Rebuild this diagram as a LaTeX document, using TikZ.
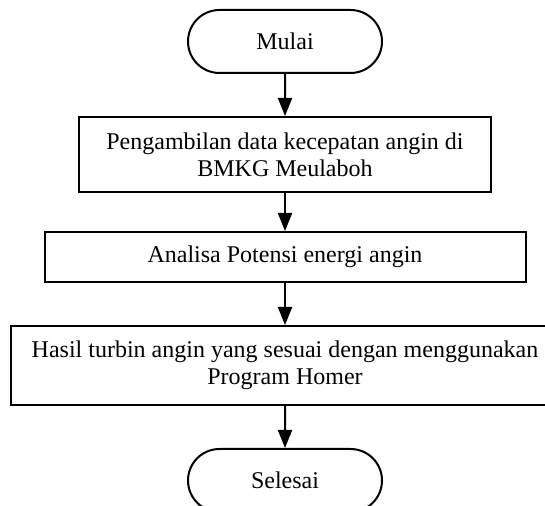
\documentclass[tikz,border=0pt]{standalone}
\usepackage{fontspec}
\setmainfont{Liberation Serif}
\usetikzlibrary{shapes.misc, arrows.meta}

\begin{document}
\begin{tikzpicture}[x=0.5pt, y=-0.5pt,
    every node/.style={draw, line width=1pt, inner sep=0pt, align=center, font=\fontsize{12}{13.5}\selectfont},
    terminal/.style={rounded rectangle, minimum width=97pt, minimum height=31.5pt},
    proses/.style={rectangle},
    panah/.style={line width=1pt, -{Triangle[length=9pt, width=7pt]}}]
    \useasboundingbox (0,0) rectangle (545,506);

    \node[terminal] (mulai) at (285,41.5) {Mulai};
    \node[proses, minimum width=206pt, minimum height=37.5pt] (ambil) at (285,154.5) {Pengambilan data kecepatan angin di\\BMKG Meulaboh};
    \node[proses, minimum width=240.5pt, minimum height=25pt] (analisa) at (285,257) {Analisa Potensi energi angin};
    \node[proses, minimum width=274pt, minimum height=39.5pt] (hasil) at (285,365.5) {Hasil turbin angin yang sesuai dengan menggunakan\\Program Homer};
    \node[terminal] (selesai) at (285,480.5) {Selesai};

    \draw[panah] (mulai) -- (ambil);
    \draw[panah] (ambil) -- (analisa);
    \draw[panah] (analisa) -- (hasil);
    \draw[panah] (hasil) -- (selesai);
\end{tikzpicture}
\end{document}
